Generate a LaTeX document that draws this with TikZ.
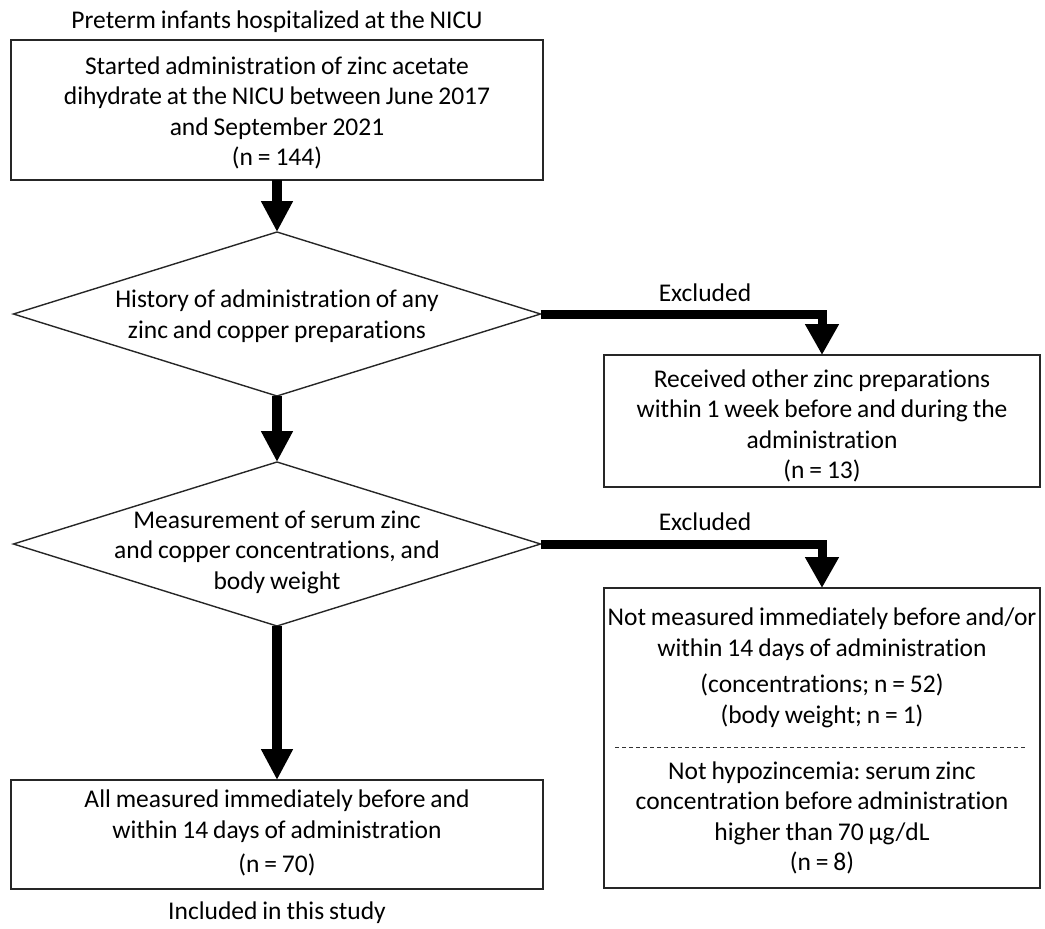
\documentclass[tikz,border=0pt]{standalone}
\usepackage{fontspec}
\setmainfont{Carlito}[Ligatures=NoCommon, WordSpace=0.85]
\frenchspacing
\usetikzlibrary{shapes.geometric,arrows.meta}
\begin{document}
\begin{tikzpicture}[x=1pt,y=-1pt,
  every node/.style={font=\fontsize{25.5}{30.5}\selectfont, text=black},
  box/.style={draw=black!85, line width=1.6pt, rectangle, inner sep=0pt, outer sep=0pt, align=center},
  dia/.style={draw=black!85, line width=1.4pt, diamond, minimum width=527pt, minimum height=164pt, inner sep=0pt, outer sep=0pt},
  txt/.style={align=center, inner sep=0pt},
  flow/.style={line width=10pt, -{Triangle[width=30pt,length=31pt]}},
  excl/.style={line width=9pt, line join=miter, -{Triangle[width=32pt,length=31pt]}}
]
\useasboundingbox (0,0) rectangle (1045,929);

\node[txt] (title) at (277,22) {Preterm infants hospitalized at the NICU};
\node[box, minimum width=532pt, minimum height=140pt] (b1) at (277,110) {};
\node[txt] (b1t) at (277,113)
  {Started administration of zinc acetate\\ dihydrate at the NICU between June 2017\\ and September 2021\\ (n = 144)};

\node[dia] (d1) at (277,314) {};
\node[txt] (t1) at (277,316) {History of administration of any\\ zinc and copper preparations};

\node[dia] (d2) at (277,544) {};
\node[txt] (t2) at (277,552) {Measurement of serum zinc\\ and copper concentrations, and\\ body weight};

\node[box, minimum width=532pt, minimum height=109pt] (b3) at (277,834.5) {};
\node[txt] (b3t) at (277,833)
  {All measured immediately before and\\ within 14 days of administration\\[4pt] (n = 70)};
\node[txt] (incl) at (277,913) {Included in this study};

\node[box, minimum width=436pt, minimum height=132pt] (r1) at (822,421) {};
\node[txt] (r1t) at (822,426)
  {Received other zinc preparations\\ within 1 week before and during the\\ administration\\ (n = 13)};

\node[box, minimum width=436pt, minimum height=300pt] (r2) at (822,738) {};
\node[txt] (r2a) at (822,668) {Not measured immediately before and/or\\ within 14 days of administration\\[6pt] (concentrations; n = 52)\\ (body weight; n = 1)};
\node[txt] (r2b) at (822,818) {Not hypozincemia: serum zinc\\ concentration before administration\\ higher than 70 µg/dL\\ (n = 8)};
\draw[black!80, line width=1pt, dash pattern=on 4pt off 3pt]
  ([xshift=11pt,yshift=-9pt]r2.west) -- ([xshift=-13pt,yshift=-9pt]r2.east);

\node[txt] (ex1) at (705,293) {Excluded};
\node[txt] (ex2) at (705,522) {Excluded};

\draw[flow] (b1.south) -- (d1.north);
\draw[flow] (d1.south) -- (d2.north);
\draw[flow] (d2.south) -- (b3.north);
\draw[excl] (d1.east) -| (r1.north);
\draw[excl] (d2.east) -| (r2.north);
\end{tikzpicture}
\end{document}
